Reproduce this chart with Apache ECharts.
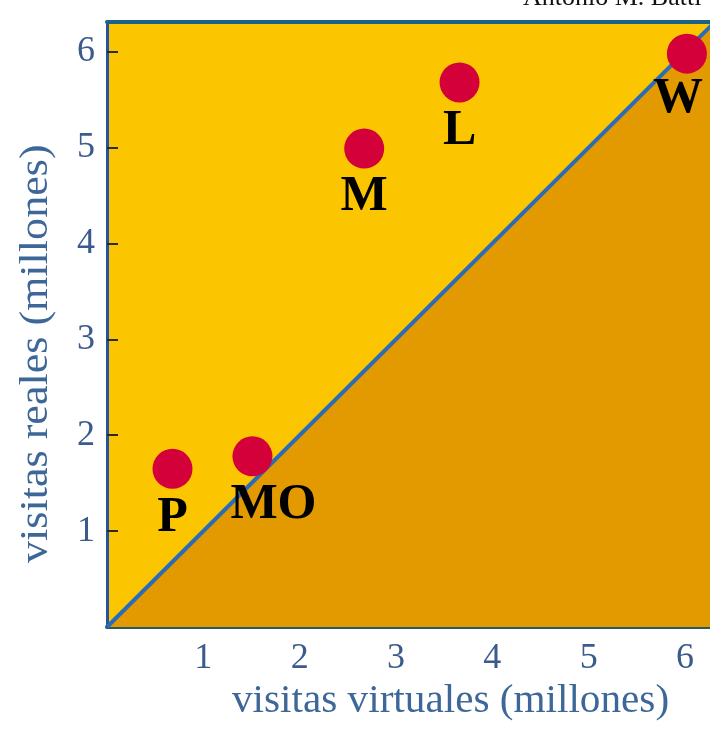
<!DOCTYPE html>
<html>
<head>
<meta charset="utf-8">
<script src="https://cdn.jsdelivr.net/npm/echarts@6/dist/echarts.min.js"></script>
<style>
html,body{margin:0;padding:0;background:#fff;}
#c{width:710px;height:731px;}
</style>
</head>
<body>
<div id="c"></div>
<script>
// ---- data ----
const names = ['P', 'MO', 'M', 'L', 'W'];
const virtualVisits = [0.68, 1.51, 2.67, 3.66, 6.02];
const realVisits = [1.65, 1.78, 4.99, 5.68, 5.98];
const xTicks = [1, 2, 3, 4, 5, 6];
const yTicks = [1, 2, 3, 4, 5, 6];
const diagonal = [0, 7];
const xTitle = 'visitas virtuales (millones)';
const yTitle = 'visitas reales (millones)';
const author = 'Antonio M. Batti';
const labelShift = { MO: [21, 0], W: [-9, -4] };

const chart = echarts.init(document.getElementById('c'), null, { renderer: 'canvas' });

const serif = '"Liberation Serif", "Times New Roman", serif';
const tickColor = '#3b5b8e';

const scatterData = names.map((n, i) => ({
  name: n,
  value: [virtualVisits[i], realVisits[i]],
  label: { offset: labelShift[n] || [0, 0] }
}));

chart.setOption({
  animation: false,
  backgroundColor: '#ffffff',
  grid: {
    left: 107, right: 0, top: 22, bottom: 104,
    show: true, backgroundColor: '#FBC600', borderWidth: 0
  },
  xAxis: [{
    type: 'value', min: 0, max: 6.26,
    position: 'bottom',
    splitLine: { show: false },
    axisLine: { show: true, onZero: false, lineStyle: { color: '#2c5660', width: 4 } },
    axisTick: { show: true, inside: true, length: 11, customValues: xTicks, lineStyle: { color: '#2e2a1e', width: 2 } },
    axisLabel: { customValues: xTicks, margin: 14, color: tickColor, fontFamily: serif, fontSize: 36 }
  }, {
    type: 'value', min: 0, max: 6.26, position: 'top',
    splitLine: { show: false },
    axisLine: { show: true, onZero: false, lineStyle: { color: '#1d6280', width: 4 } },
    axisTick: { show: false }, axisLabel: { show: false }
  }],
  yAxis: {
    type: 'value', min: 0, max: 6.31,
    splitLine: { show: false },
    axisLine: { show: true, onZero: false, lineStyle: { color: '#2452a8', width: 3 } },
    axisTick: { show: true, inside: true, length: 11, customValues: yTicks, lineStyle: { color: '#2e2a1e', width: 2 } },
    axisLabel: { customValues: yTicks, margin: 12, color: tickColor, fontFamily: serif, fontSize: 36 }
  },
  series: [{
    type: 'line',
    data: diagonal.map(v => [v, v]),
    symbol: 'none',
    clip: true,
    lineStyle: { color: '#2a6cb8', width: 4 },
    areaStyle: { color: '#E39A00', opacity: 1, origin: 'start' },
    z: 2
  }, {
    type: 'scatter',
    data: scatterData,
    symbolSize: 40,
    itemStyle: { color: '#D4003A', opacity: 1 },
    label: {
      show: true,
      position: 'bottom',
      distance: 4,
      formatter: p => p.name,
      color: '#000000',
      opacity: 1,
      fontFamily: serif,
      fontWeight: 'bold',
      fontSize: 50
    },
    z: 5
  }],
  graphic: [{
    type: 'text',
    x: 232, y: 681,
    scaleX: 1.03,
    style: { text: xTitle, fill: '#3d6798', font: '40px "Liberation Serif", serif' }
  }, {
    type: 'text',
    x: 17, y: 563,
    rotation: Math.PI / 2,
    scaleX: 1.13,
    style: { text: yTitle, fill: '#3d6798', font: '39px "Liberation Serif", serif', textAlign: 'left', textVerticalAlign: 'top' }
  }, {
    type: 'text',
    x: 523, y: -15,
    style: { text: author, fill: '#111111', font: '26px "Liberation Serif", serif' }
  }]
});
</script>
</body>
</html>
